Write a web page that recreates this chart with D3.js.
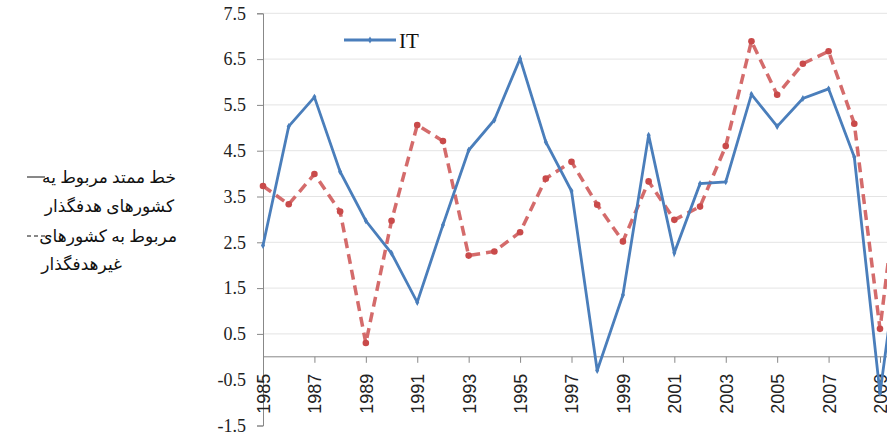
<!DOCTYPE html>
<html>
<head>
<meta charset="utf-8">
<script src="https://cdn.jsdelivr.net/npm/d3@7/dist/d3.min.js"></script>
<style>
  html, body { margin: 0; padding: 0; background: #ffffff; }
  svg { display: block; }
</style>
</head>
<body>
<svg id="chart" width="887" height="440"></svg>
<script>
// ---- data ----
const years = [1985,1986,1987,1988,1989,1990,1991,1992,1993,1994,1995,1996,1997,1998,1999,2000,2001,2002,2003,2004,2005,2006,2007,2008,2009,2010];
const itValues    = [2.43,5.03,5.67,4.04,2.97,2.26,1.19,2.88,4.51,5.17,6.51,4.69,3.62,-0.30,1.35,4.84,2.27,3.78,3.82,5.73,5.03,5.64,5.85,4.36,-0.80,3.4];
const nonItValues = [3.73,3.33,3.99,3.17,0.30,2.97,5.06,4.71,2.21,2.30,2.72,3.89,4.26,3.32,2.52,3.83,2.99,3.28,4.60,6.89,5.72,6.40,6.67,5.09,0.61,5.2];
const yTicks = [-1.5,-0.5,0.5,1.5,2.5,3.5,4.5,5.5,6.5,7.5];
const xTicks = [1985,1987,1989,1991,1993,1995,1997,1999,2001,2003,2005,2007,2009];
const legendIT = "IT";
const sideLegend = ["خط ممتد مربوط یه", "کشورهای هدفگذار", "مربوط به کشورهای", "غیرهدفگذار"];

// ---- layout ----
const svg = d3.select("#chart");
const W = 887, H = 440;
const x = d3.scaleLinear().domain([1985, 2009]).range([263, 880]);
const y = d3.scaleLinear().domain([-1.5, 7.5]).range([425.5, 13.3]);
const blue = "#4a7ebb";
const red = "#cf5b5b";

// grid lines
svg.append("g").selectAll("line").data(yTicks.filter(v => v > 0)).join("line")
  .attr("x1", x(1985)).attr("x2", W)
  .attr("y1", d => y(d)).attr("y2", d => y(d))
  .attr("stroke", "#e4e4e4").attr("stroke-width", 1);

// y axis
const yAxis = d3.axisLeft(y).tickValues(yTicks).tickSize(6).tickPadding(11)
  .tickFormat(d => d.toFixed(1));
const gy = svg.append("g").attr("transform", `translate(${x(1985)},0)`).call(yAxis);
gy.select(".domain").attr("stroke", "#888");
gy.selectAll(".tick line").attr("stroke", "#888");
gy.selectAll(".tick text").attr("font-family", "Liberation Serif, Times New Roman, serif")
  .attr("font-size", 18).attr("fill", "#222");

// x axis at y=0
const xAxis = d3.axisBottom(x).tickValues(xTicks).tickSize(6).tickFormat(d3.format("d"));
const gx = svg.append("g").attr("transform", `translate(0,${y(0)})`).call(xAxis);
gx.select(".domain").attr("stroke", "#888").attr("d", `M${x(1985)},0H${W}`);
gx.selectAll(".tick line").attr("stroke", "#888");
gx.selectAll(".tick text")
  .attr("font-family", "Liberation Sans, Arial, sans-serif")
  .attr("font-size", 18).attr("fill", "#222")
  .attr("text-anchor", "end")
  .attr("transform", "translate(0,17) rotate(-90)")
  .attr("x", 0).attr("y", 0).attr("dy", "0.36em");

// lines
const line = d3.line().x((d, i) => x(years[i])).y(d => y(d));

svg.append("path").datum(nonItValues)
  .attr("fill", "none").attr("stroke", red).attr("stroke-width", 3.5)
  .attr("stroke-dasharray", "10,6").attr("opacity", 0.9)
  .attr("d", line);
svg.append("g").selectAll("circle").data(nonItValues).join("circle")
  .attr("cx", (d, i) => x(years[i])).attr("cy", d => y(d)).attr("r", 3.3)
  .attr("fill", "#c94a4a");

svg.append("path").datum(itValues)
  .attr("fill", "none").attr("stroke", blue).attr("stroke-width", 2.8)
  .attr("d", line);
svg.append("g").selectAll("path").data(itValues).join("path")
  .attr("d", d3.symbol().type(d3.symbolDiamond).size(14))
  .attr("transform", (d, i) => `translate(${x(years[i])},${y(d)})`)
  .attr("fill", blue);

// IT legend
svg.append("line").attr("x1", 344).attr("x2", 396).attr("y1", 40).attr("y2", 40)
  .attr("stroke", blue).attr("stroke-width", 2.8);
svg.append("path").attr("d", d3.symbol().type(d3.symbolDiamond).size(14))
  .attr("transform", "translate(370,40)").attr("fill", blue);
svg.append("text").attr("x", 399).attr("y", 48).text(legendIT)
  .attr("font-family", "Liberation Serif, Times New Roman, serif")
  .attr("font-size", 21).attr("fill", "#111");

// side legend (Persian)
const sideFont = "Liberation Serif, DejaVu Sans, serif";
const side = svg.append("g").attr("font-family", sideFont).attr("font-size", 17).attr("fill", "#111");
side.append("line").attr("x1", 27).attr("x2", 45).attr("y1", 177).attr("y2", 177)
  .attr("stroke", "#111").attr("stroke-width", 1);
side.append("text").attr("x", 176).attr("y", 183).attr("text-anchor", "end").text(sideLegend[0]);
side.append("text").attr("x", 174).attr("y", 212).attr("text-anchor", "end").text(sideLegend[1]);
side.append("line").attr("x1", 27).attr("x2", 46).attr("y1", 236).attr("y2", 236)
  .attr("stroke", "#111").attr("stroke-width", 1).attr("stroke-dasharray", "4,3");
side.append("text").attr("x", 177).attr("y", 242).attr("text-anchor", "end").text(sideLegend[2]);
side.append("text").attr("x", 122).attr("y", 270).attr("text-anchor", "end").text(sideLegend[3]);
</script>
</body>
</html>
